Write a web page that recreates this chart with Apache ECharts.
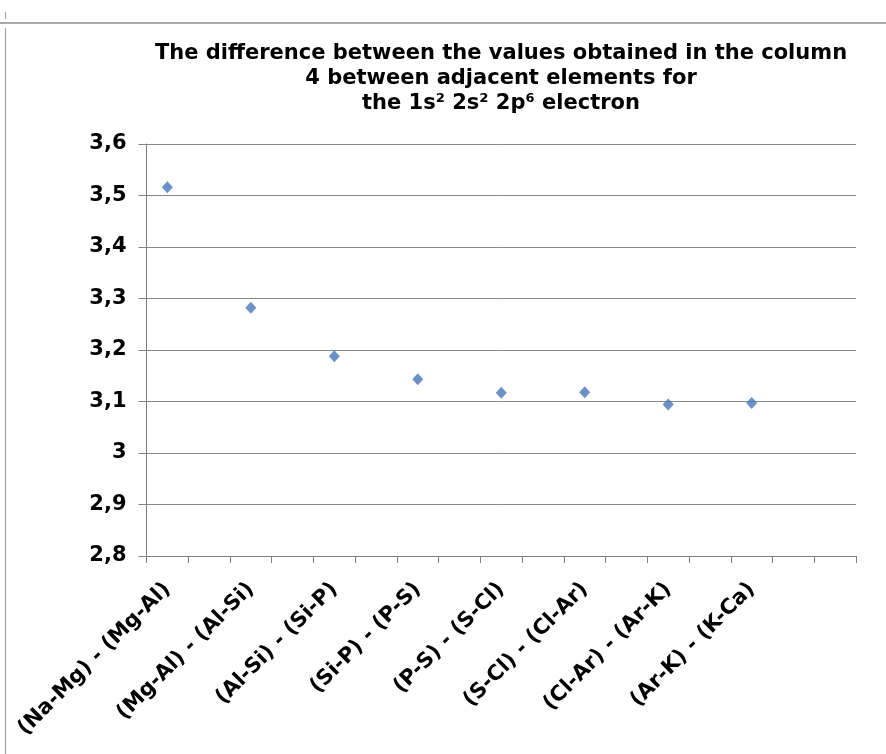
<!DOCTYPE html>
<html><head><meta charset="utf-8">
<script src="https://cdn.jsdelivr.net/npm/echarts@6/dist/echarts.min.js"></script>
<style>html,body{margin:0;padding:0;background:#fff}#c{width:886px;height:754px}</style>
</head><body><div id="c"></div>
<script>
const titleText = 'The difference between the values obtained in the column\n4 between adjacent elements for\nthe 1s\u00b2 2s\u00b2 2p\u2076 electron';
const pairLabels = ['(Na-Mg) - (Mg-Al)', '(Mg-Al) - (Al-Si)', '(Al-Si) - (Si-P)', '(Si-P) - (P-S)', '(P-S) - (S-Cl)', '(S-Cl) - (Cl-Ar)', '(Cl-Ar) - (Ar-K)', '(Ar-K) - (K-Ca)'];
const diffValues = [3.516, 3.282, 3.188, 3.143, 3.117, 3.118, 3.094, 3.097];
const yTicks = [2.8, 2.9, 3.0, 3.1, 3.2, 3.3, 3.4, 3.5, 3.6];
const slotCount = 17; // category slots on the axis (labels on every other slot)

const cats = [], vals = [];
for (let i = 0; i < slotCount; i++) {
  if (i % 2 === 0 && i / 2 < pairLabels.length) { cats.push(pairLabels[i / 2]); vals.push(diffValues[i / 2]); }
  else { cats.push('slot' + i); vals.push(null); }
}
const F = "'DejaVu Sans', Verdana, sans-serif";
const chart = echarts.init(document.getElementById('c'));
chart.setOption({
  animation: false,
  graphic: [
    { type: 'line', shape: { x1: 0, y1: 23, x2: 886, y2: 23 }, style: { stroke: '#8c8c8c', lineWidth: 1.5 } },
    { type: 'line', shape: { x1: 5.5, y1: 12, x2: 5.5, y2: 19 }, style: { stroke: '#999', lineWidth: 1 } },
    { type: 'line', shape: { x1: 5.5, y1: 28, x2: 5.5, y2: 754 }, style: { stroke: '#999', lineWidth: 1 } },
    { type: 'text', x: 501, y: 41, style: {
        text: titleText, align: 'center', verticalAlign: 'top',
        font: "bold 21px 'DejaVu Sans', Verdana, sans-serif", lineHeight: 25, fill: '#000'
    } }
  ],
  grid: { left: 146.5, right: 30, top: 144, bottom: 198, containLabel: false },
  xAxis: {
    type: 'category', data: cats, boundaryGap: true,
    axisLine: { lineStyle: { color: '#808080', width: 1 } },
    axisTick: { show: true, interval: 0, length: 7, lineStyle: { color: '#808080' } },
    axisLabel: {
      interval: 0, rotate: 45, margin: 30,
      fontFamily: F, fontSize: 21, fontWeight: 'bold', color: '#000',
      formatter: (v, i) => (i % 2 === 0 && i / 2 < pairLabels.length) ? pairLabels[i / 2] : ''
    },
    splitLine: { show: false }
  },
  yAxis: {
    type: 'value', min: yTicks[0], max: yTicks[yTicks.length - 1], interval: 0.1,
    axisLine: { show: true, lineStyle: { color: '#808080', width: 1 } },
    axisTick: { show: true, length: 8, lineStyle: { color: '#808080' } },
    axisLabel: {
      margin: 20, fontFamily: F, fontSize: 21, fontWeight: 'bold', color: '#000',
      formatter: v => { const r = Math.round(v * 10) / 10; return String(r).replace('.', ','); }
    },
    splitLine: { show: true, lineStyle: { color: '#888', width: 1 } }
  },
  series: [{
    type: 'scatter', data: vals, symbol: 'diamond', symbolSize: [11, 12],
    itemStyle: { color: '#4676b8' }
  }]
});
</script></body></html>
